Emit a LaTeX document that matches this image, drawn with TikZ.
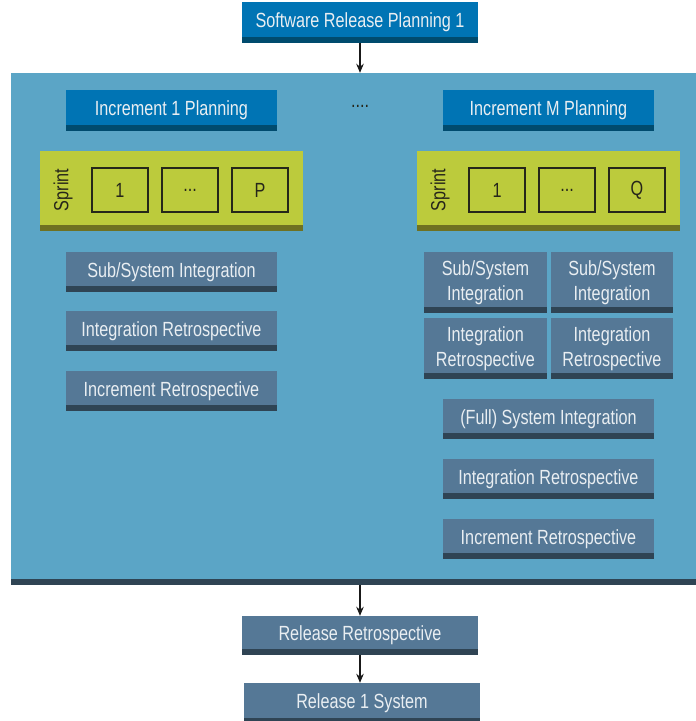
\documentclass[tikz,border=0pt]{standalone}
\usepackage{fontspec}
\setmainfont[FakeStretch=0.79]{Liberation Sans}
\usetikzlibrary{arrows.meta}

\definecolor{frameblue}{HTML}{5BA5C6}
\definecolor{planblue}{HTML}{0074B4}
\definecolor{planedge}{HTML}{004B6E}
\definecolor{slate}{HTML}{557896}
\definecolor{slateedge}{HTML}{2F4454}
\definecolor{lime}{HTML}{BCCB3C}
\definecolor{limeedge}{HTML}{6E7122}
\definecolor{paletext}{HTML}{E9EEF2}
\definecolor{inkdark}{HTML}{26261A}

\tikzset{
  % box with a darker band along its lower edge
  banded/.style 2 args={fill=#1, inner sep=0pt, align=center,
    path picture={\fill[#2] (path picture bounding box.south west) rectangle
      ([yshift=6pt]path picture bounding box.south east);}},
  planbox/.style={banded={planblue}{planedge}, text=paletext,
    font=\fontsize{20.5}{22}\selectfont, minimum width=211pt, minimum height=41pt},
  taskbox/.style={banded={slate}{slateedge}, text=paletext,
    font=\fontsize{20.5}{24.5}\selectfont, minimum width=211pt, minimum height=40pt},
  sprintbar/.style={banded={lime}{limeedge}, minimum width=263pt, minimum height=80pt},
  sprintcell/.style={draw=inkdark, line width=1.1pt, fill=lime, text=inkdark,
    font=\fontsize{20.5}{22}\selectfont, minimum width=56pt, minimum height=44pt, inner sep=0pt},
  sprintlabel/.style={rotate=90, text=inkdark, font=\fontsize{20.5}{22}\selectfont, inner sep=0pt},
  flow/.style={draw=black!90, line width=1.4pt, -{Stealth[length=9pt,width=7.5pt]}}
}

\begin{document}
\begin{tikzpicture}[x=1pt, y=-1pt]
\clip (0,0) rectangle (696,721);
\fill[white] (0,0) rectangle (696,721);

% top planning box
\node[planbox, minimum width=236pt] (srp) at (360,22.5) {Software Release Planning 1};

% large release frame
\node[banded={frameblue}{slateedge}, minimum width=685pt, minimum height=512pt] (release) at (353.5,329) {};

% increment 1 column
\node[planbox] (inc1) at (171.5,110.5) {Increment 1 Planning};
\node[sprintbar] (sp1) at (171.5,191) {};
\node[sprintlabel] (sp1lab) at (63,190) {Sprint};
\node[sprintcell] (s1a) at (120,190) {1};
\node[sprintcell] (s1b) at (190,190) {...};
\node[sprintcell] (s1c) at (260,190) {P};
\node[taskbox] (sub1) at (171.5,272) {Sub/System Integration};
\node[taskbox] (ir1) at (171.5,331) {Integration Retrospective};
\node[taskbox] (incr1) at (171.5,391) {Increment Retrospective};

% ellipsis between increments
\node[text=inkdark, font=\fontsize{20.5}{22}\selectfont, inner sep=0pt] (gap) at (360,106) {....};

% increment M column
\node[planbox] (incm) at (548.5,110.5) {Increment M Planning};
\node[sprintbar] (spm) at (548.5,191) {};
\node[sprintlabel] (spmlab) at (440,190) {Sprint};
\node[sprintcell] (sma) at (497,190) {1};
\node[sprintcell] (smb) at (567,190) {...};
\node[sprintcell] (smc) at (637,190) {Q};
\node[taskbox, minimum width=123pt, minimum height=61pt] (subma) at (485.5,282.5) {Sub/System\\Integration};
\node[taskbox, minimum width=122pt, minimum height=61pt] (submb) at (612,282.5) {Sub/System\\Integration};
\node[taskbox, minimum width=123pt, minimum height=61pt] (irma) at (485.5,348.5) {Integration\\Retrospective};
\node[taskbox, minimum width=122pt, minimum height=61pt] (irmb) at (612,348.5) {Integration\\Retrospective};
\node[taskbox] (fullm) at (548.5,419) {(Full) System Integration};
\node[taskbox] (irm) at (548.5,479) {Integration Retrospective};
\node[taskbox] (incrm) at (548.5,539) {Increment Retrospective};

% release closing steps
\node[taskbox, minimum width=236pt, minimum height=39pt] (relretro) at (360,635.5) {Release Retrospective};
\node[taskbox, minimum width=236pt, minimum height=41pt] (relsys) at (362,703.5) {Release 1 System};

% connectors
\draw[flow] (srp.south) -- (srp.south |- release.north);
\draw[flow] (relretro.north |- release.south) -- (relretro.north);
\draw[flow] (relretro.south) -- (relretro.south |- relsys.north);
\end{tikzpicture}
\end{document}
